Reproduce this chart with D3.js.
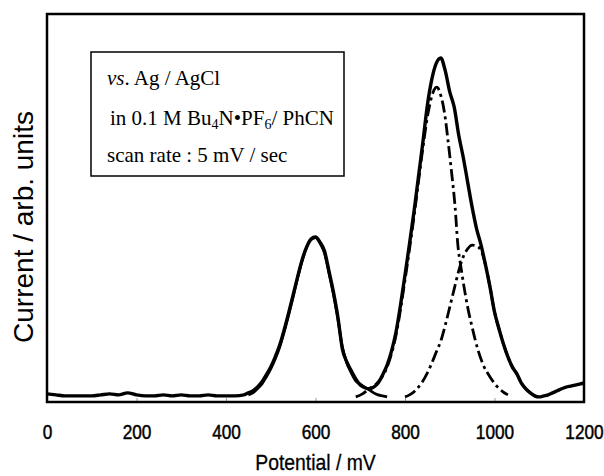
<!DOCTYPE html>
<html>
<head>
<meta charset="utf-8">
<script src="https://cdn.jsdelivr.net/npm/d3@7"></script>
<style>
  body { margin: 0; background: #fff; }
  svg { display: block; }
</style>
</head>
<body>
<div id="chart"></div>
<script>
// measured trace (solid), potential in mV, current in arb. units
const mainPotential = [0, 20, 40, 60, 80, 100, 120, 140, 160, 180, 200, 220, 240, 260, 280, 300, 320, 340, 360, 380, 400, 420, 440,
  450, 460, 470, 480, 490, 500, 510, 520, 530, 540, 550, 560, 570, 580, 590, 600, 610, 620, 630, 640, 650, 660, 670, 680, 690, 700,
  710, 720, 730, 740, 750, 760, 770, 780, 790, 800, 810, 820, 830, 840, 850, 860, 870, 880, 890, 900, 910, 920, 930, 940, 950, 960,
  970, 980, 990, 1000, 1010, 1020, 1030, 1040, 1050, 1060, 1070, 1080, 1090, 1100, 1110, 1120, 1130, 1140, 1150, 1160, 1170, 1180, 1190, 1200];
const mainCurrent = [0.9, 0.6, 0.3, 0.3, 0.3, 0.3, 0.6, 0.9, 0.6, 1.2, 0.6, 0.3, 0.3, 0.6, 0.3, 0.6, 0.3, 0.3, 0.6, 0.3, 0.3, 0.3, 0.6,
  1.2, 1.8, 2.9, 4.4, 6.5, 8.8, 11.8, 15.3, 19.8, 24.8, 30.1, 35.4, 40.4, 44.2, 46.6, 47.2, 45.7, 43.1, 37.2, 31.0, 23.6, 14.2, 10.3, 7.7, 5.3, 3.5,
  2.7, 2.4, 2.9, 4.1, 6.5, 9.4, 13.6, 19.2, 27.1, 36.0, 45.1, 54.6, 64.9, 75.2, 86.1, 93.8, 98.5, 100, 96.2, 90.0, 85.5, 77.3, 70.8, 63.4, 56.0, 49.6,
  44.8, 38.9, 32.4, 25.1, 20.1, 15.6, 11.8, 8.8, 6.8, 4.1, 2.4, 1.2, 0.3, 0, 0.3, 0.6, 1.2, 1.8, 2.4, 2.9, 3.2, 3.5, 3.8, 4.1];

// first wave (solid, peak near 600 mV)
const waveAPotential = [450, 460, 470, 480, 490, 500, 510, 520, 530, 540, 550, 560, 570, 580, 590, 600, 610, 620, 630, 640, 650, 660, 670, 680, 690, 700, 710, 720, 730, 740, 750, 760];
const waveACurrent = [0.6, 1.2, 2.4, 3.8, 5.9, 8.3, 11.2, 14.7, 19.2, 24.2, 29.5, 35.1, 40.1, 44.0, 46.4, 47.0, 45.4, 42.5, 36.6, 30.4, 23.0, 14.7, 10.0, 7.1, 4.7, 3.8, 2.9, 2.1, 1.2, 0.6, 0.3, 0];

// second wave (dash-dot, peak near 870 mV)
const waveBPotential = [690, 705, 720, 740, 760, 780, 800, 820, 840, 850, 860, 865, 871, 880, 890, 896, 904, 912, 918, 925, 932, 940, 950, 963, 975, 990, 1005, 1019, 1030];
const waveBCurrent = [0, 0.9, 2.4, 4.4, 8.8, 18.3, 34.5, 53.1, 73.5, 82.6, 88.8, 90.6, 91.4, 89.0, 82.3, 75.8, 66.4, 56.0, 45.0, 38.3, 32.4, 26.5, 20.6, 13.9, 9.4, 5.9, 3.2, 1.5, 0.6];

// third wave (dash-dot, peak near 955 mV)
const waveCPotential = [800, 810, 820, 830, 840, 850, 860, 870, 880, 890, 900, 910, 920, 930, 940, 950, 960, 970, 980, 990, 1000, 1010, 1020, 1030, 1040, 1050, 1060, 1070, 1080, 1090, 1100];
const waveCCurrent = [0, 0.6, 1.5, 2.9, 4.7, 7.1, 10.0, 13.3, 16.5, 21.2, 26.5, 31.9, 37.2, 41.3, 43.7, 44.8, 44.5, 43.2, 38.9, 32.4, 25.1, 20.1, 15.6, 11.8, 8.8, 6.8, 4.1, 2.4, 1.2, 0.3, 0];

const xTicks = [0, 200, 400, 600, 800, 1000, 1200];
const legendLines = ["Ag / AgCl", "in 0.1 M Bu", "scan rate : 5 mV / sec"];

const width = 604, height = 476;
const margin = { top: 14, right: 20, bottom: 74, left: 47 };

const svg = d3.select("#chart").append("svg")
  .attr("width", width)
  .attr("height", height);

const x = d3.scaleLinear().domain([0, 1200]).range([margin.left, width - margin.right]);
const y = d3.scaleLinear().domain([-1.5, 113]).range([height - margin.bottom, margin.top]);

// bottom axis: small inward ticks, condensed labels
const xAxis = svg.append("g")
  .attr("transform", `translate(0,${height - margin.bottom})`)
  .call(d3.axisBottom(x).tickValues(xTicks).tickFormat(d3.format("d"))
    .tickSizeInner(-4).tickSizeOuter(0).tickPadding(22));
xAxis.select(".domain").remove();
xAxis.selectAll(".tick line").attr("stroke", "#999");
xAxis.selectAll(".tick text")
  .attr("font-family", "'Liberation Sans', Arial, sans-serif")
  .attr("font-size", 21)
  .attr("transform", "scale(0.82,1)")
  .attr("fill", "#000")
  .attr("stroke", "#000")
  .attr("stroke-width", 0.5);

function trace(px, py) {
  return d3.line()
    .x(d => x(px[d]))
    .y(d => y(py[d]))
    .curve(d3.curveMonotoneX)(d3.range(px.length));
}

svg.append("path")
  .attr("d", trace(mainPotential, mainCurrent))
  .attr("fill", "none").attr("stroke", "#000").attr("stroke-width", 3.4).attr("stroke-linejoin", "round");

svg.append("path")
  .attr("d", trace(waveAPotential, waveACurrent))
  .attr("fill", "none").attr("stroke", "#000").attr("stroke-width", 2.8);

svg.append("path")
  .attr("d", trace(waveBPotential, waveBCurrent))
  .attr("fill", "none").attr("stroke", "#000").attr("stroke-width", 2.8)
  .attr("stroke-dasharray", "12,4,3,4");

svg.append("path")
  .attr("d", trace(waveCPotential, waveCCurrent))
  .attr("fill", "none").attr("stroke", "#000").attr("stroke-width", 2.8)
  .attr("stroke-dasharray", "12,4,3,4");

// frame
svg.append("rect")
  .attr("x", margin.left)
  .attr("y", margin.top)
  .attr("width", width - margin.left - margin.right)
  .attr("height", height - margin.top - margin.bottom)
  .attr("fill", "none").attr("stroke", "#000").attr("stroke-width", 2.5);

// axis titles
svg.append("text")
  .attr("transform", `translate(${(margin.left + width - margin.right) / 2},470) scale(0.88,1)`)
  .attr("text-anchor", "middle")
  .attr("font-family", "'Liberation Sans', Arial, sans-serif")
  .attr("font-size", 22)
  .attr("stroke", "#000").attr("stroke-width", 0.3)
  .text("Potential / mV");

svg.append("text")
  .attr("transform", "translate(33,227) rotate(-90)")
  .attr("text-anchor", "middle")
  .attr("font-family", "'Liberation Sans', Arial, sans-serif")
  .attr("font-size", 28)
  .text("Current / arb. units");

// annotation box
svg.append("rect")
  .attr("x", 91).attr("y", 52).attr("width", 253).attr("height", 124)
  .attr("fill", "#fff").attr("stroke", "#000").attr("stroke-width", 1.5);

const box = svg.append("g")
  .attr("font-family", "'Liberation Serif', 'Times New Roman', serif")
  .attr("font-size", 21);

const l1 = box.append("text").attr("x", 107).attr("y", 85);
l1.append("tspan").attr("font-style", "italic").text("vs");
l1.append("tspan").text(". " + legendLines[0]);

const l2 = box.append("text").attr("x", 110).attr("y", 125);
l2.append("tspan").text(legendLines[1]);
l2.append("tspan").attr("font-size", 14).attr("dy", 4).text("4");
l2.append("tspan").attr("dy", -4).text("N\u2022PF");
l2.append("tspan").attr("font-size", 14).attr("dy", 4).text("6");
l2.append("tspan").attr("dy", -4).text("/ PhCN");

box.append("text").attr("x", 107).attr("y", 162).text(legendLines[2]);
</script>
</body>
</html>
